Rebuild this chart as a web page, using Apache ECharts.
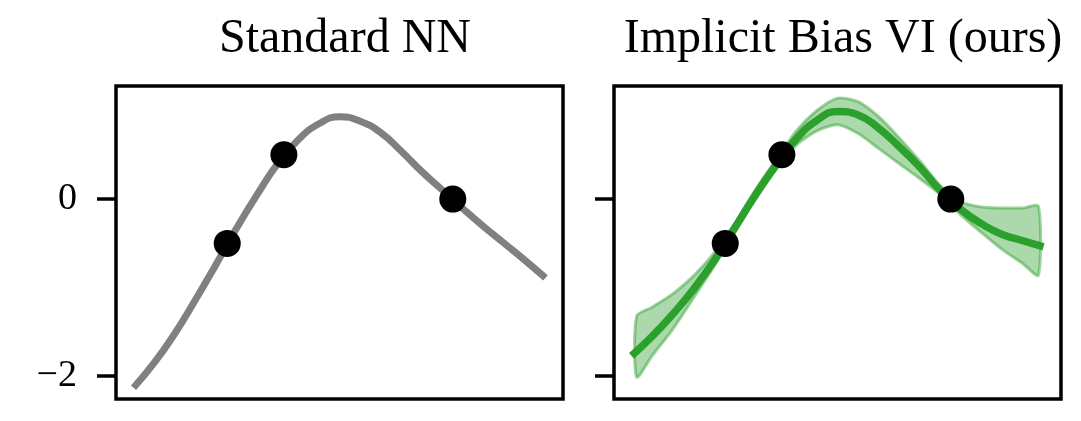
<!DOCTYPE html>
<html>
<head>
<meta charset="utf-8">
<script src="https://cdn.jsdelivr.net/npm/echarts@6/dist/echarts.min.js"></script>
<style>
  html, body { margin: 0; padding: 0; background: #fff; }
  #chart { width: 1081px; height: 421px; }
</style>
</head>
<body>
<div id="chart"></div>
<script>
// x positions of the sampled curves
const xGrid = [-2, -1.8, -1.6, -1.4, -1.2, -1, -0.8, -0.6, -0.4, -0.2, 0, 0.2, 0.4, 0.6, 0.8, 1, 1.2, 1.4, 1.6, 1.8, 2]
// standard NN prediction
const nnY = [-2.13, -1.85, -1.52, -1.14, -0.74, -0.33, 0.05, 0.40, 0.67, 0.85, 0.93, 0.88, 0.75, 0.54, 0.31, 0.10, -0.11, -0.31, -0.50, -0.69, -0.89]
// implicit bias VI mean
const meanY = [-1.77, -1.55, -1.30, -1.02, -0.70, -0.33, 0.04, 0.38, 0.68, 0.89, 0.99, 0.95, 0.80, 0.59, 0.36, 0.095, -0.12, -0.28, -0.40, -0.47, -0.54]
// uncertainty band
const bandX = [-1.95, -1.8, -1.6, -1.4, -1.2, -1, -0.8, -0.6, -0.4, -0.2, 0, 0.2, 0.4, 0.6, 0.8, 1, 1.2, 1.4, 1.6, 1.8, 1.95]
const bandLow = [-2.01, -1.77, -1.47, -1.12, -0.76, -0.38, -0.01, 0.33, 0.61, 0.77, 0.84, 0.74, 0.57, 0.40, 0.23, 0.05, -0.18, -0.38, -0.57, -0.73, -0.86]
const bandHigh = [-1.32, -1.22, -1.07, -0.87, -0.61, -0.28, 0.10, 0.44, 0.77, 1.00, 1.14, 1.10, 0.93, 0.69, 0.43, 0.15, -0.03, -0.09, -0.10, -0.10, -0.08]
// training points
const pointX = [-1.09, -0.54, 1.10]
const pointY = [-0.5, 0.5, 0]
const yTicks = [-2, 0]
const yTickLabels = ['\u22122', '0']
const titles = ['Standard NN', 'Implicit Bias VI (ours)']

const GREEN = '#2ca02c'
const FONT = 'Liberation Serif'

const zip = (xs, ys) => xs.map((x, i) => [x, ys[i]])

const grids = [
  { left: 116, top: 86, width: 447, height: 313 },
  { left: 614, top: 86, width: 447, height: 313 }
].map(g => Object.assign(g, { show: true, borderColor: '#000', borderWidth: 3.5, backgroundColor: 'transparent' }))

function yAxis(idx, labels) {
  return {
    type: 'value',
    gridIndex: idx,
    min: -2.257,
    max: 1.277,
    axisLine: { show: false, onZero: false },
    splitLine: { show: false },
    axisTick: { show: true, length: 19, customValues: yTicks, lineStyle: { color: '#000', width: 3.5 } },
    axisLabel: {
      show: labels,
      customValues: yTicks,
      margin: 39,
      fontFamily: FONT,
      fontSize: 38,
      color: '#000',
      padding: [6, 0, 0, 0],
      formatter: v => yTickLabels[yTicks.indexOf(v)]
    }
  }
}

function xAxis(idx) {
  return { type: 'value', gridIndex: idx, min: -2.17, max: 2.17, show: false, axisLine: { onZero: false } }
}

// band drawn as one filled polygon through the axis scales
function renderBand(params, api) {
  if (params.dataIndex !== 0) return null
  const top = bandX.map((x, i) => api.coord([x, bandHigh[i]]))
  const bottom = bandX.map((x, i) => api.coord([x, bandLow[i]])).reverse()
  return {
    type: 'polygon',
    shape: { points: top.concat(bottom), smooth: 0.25 },
    style: { fill: 'rgba(44,160,44,0.4)', stroke: 'rgba(44,160,44,0.45)', lineWidth: 3 }
  }
}

const option = {
  animation: false,
  backgroundColor: '#fff',
  title: titles.map((t, i) => ({
    text: t,
    left: i === 0 ? 340 : 838,
    textAlign: 'center',
    top: 10,
    textStyle: { fontFamily: FONT, fontSize: 48, fontWeight: 'normal', color: '#000' }
  })),
  grid: grids,
  xAxis: [xAxis(0), xAxis(1)],
  yAxis: [yAxis(0, true), yAxis(1, false)],
  series: [
    {
      type: 'line', xAxisIndex: 0, yAxisIndex: 0,
      data: zip(xGrid, nnY), smooth: 0.5, showSymbol: false,
      lineStyle: { color: '#808080', width: 7 }, z: 2
    },
    {
      type: 'custom', xAxisIndex: 1, yAxisIndex: 1,
      data: zip(bandX, bandLow), renderItem: renderBand, z: 1, silent: true
    },
    {
      type: 'line', xAxisIndex: 1, yAxisIndex: 1,
      data: zip(xGrid, meanY), smooth: 0.5, showSymbol: false,
      lineStyle: { color: GREEN, width: 7.5 }, z: 2
    },
    {
      type: 'scatter', xAxisIndex: 0, yAxisIndex: 0,
      data: zip(pointX, pointY), symbolSize: 27,
      itemStyle: { color: '#000', opacity: 1 }, z: 3
    },
    {
      type: 'scatter', xAxisIndex: 1, yAxisIndex: 1,
      data: zip(pointX, pointY), symbolSize: 27,
      itemStyle: { color: '#000', opacity: 1 }, z: 3
    }
  ]
}

const chart = echarts.init(document.getElementById('chart'))
chart.setOption(option)
</script>
</body>
</html>
